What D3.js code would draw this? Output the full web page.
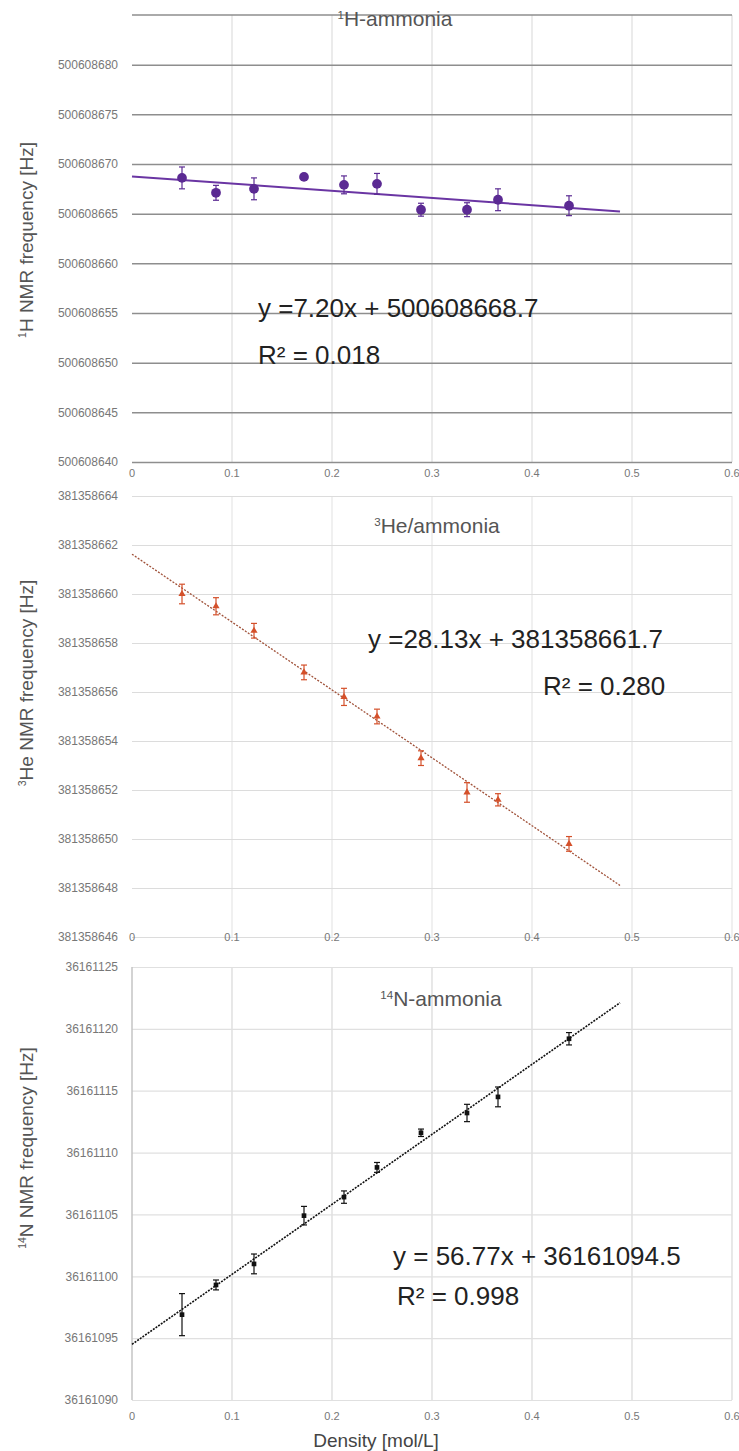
<!DOCTYPE html>
<meta charset="utf-8">
<head>
  <title>NMR frequency vs density</title>
  <script src="https://d3js.org/d3.v7.min.js"></script>
  <style>
    body { margin: 0; background: #fff; }
    text { font-family: "Liberation Sans", Arial, sans-serif; }
  </style>
</head>
<body>
<div id="display"></div>
<script>

// density of the samples [mol/L]
var density = [0.05, 0.084, 0.122, 0.172, 0.212, 0.245, 0.289, 0.335, 0.366, 0.437];
var xTicks = [0, 0.1, 0.2, 0.3, 0.4, 0.5, 0.6];

// 1H
var hFreq = [500608668.6, 500608667.1, 500608667.5, 500608668.7, 500608667.9,
             500608668.0, 500608665.4, 500608665.4, 500608666.4, 500608665.8];
var hErr  = [1.1, 0.75, 1.1, 0.3, 0.9, 1.05, 0.65, 0.7, 1.1, 1.0];
var hTicks = [500608640, 500608645, 500608650, 500608655, 500608660,
              500608665, 500608670, 500608675, 500608680];

// 3He
var heFreq = [381358660.0, 381358659.5, 381358658.5, 381358656.8, 381358655.8,
              381358655.0, 381358653.3, 381358651.9, 381358651.6, 381358649.8];
var heErr  = [0.4, 0.35, 0.3, 0.3, 0.35, 0.3, 0.3, 0.4, 0.25, 0.3];
var heTicks = [381358646, 381358648, 381358650, 381358652, 381358654,
               381358656, 381358658, 381358660, 381358662, 381358664];

// 14N
var nFreq = [36161096.9, 36161099.3, 36161101.0, 36161104.9, 36161106.4,
             36161108.8, 36161111.6, 36161113.2, 36161114.5, 36161119.2];
var nErr  = [1.7, 0.4, 0.8, 0.75, 0.5, 0.4, 0.3, 0.7, 0.8, 0.5];
var nTicks = [36161090, 36161095, 36161100, 36161105, 36161110,
              36161115, 36161120, 36161125];

var width = 739, height = 1451;

var svg = d3.select("#display")
  .append("svg")
    .attr("width", width)
    .attr("height", height);

svg.append("rect").attr("width", width).attr("height", height).attr("fill", "#fff");

var x = d3.scaleLinear().domain([0, 0.6]).range([132, 732]);

function linFit(xs, ys) {
  var mx = d3.mean(xs), my = d3.mean(ys);
  var sxy = 0, sxx = 0;
  xs.forEach(function(v, i) { sxy += (v - mx) * (ys[i] - my); sxx += (v - mx) * (v - mx); });
  var b = sxy / sxx;
  return { slope: b, icpt: my - b * mx };
}

// text with a leading superscript (isotope labels)
function supText(sel, sup, main, size) {
  sel.append("tspan").text(sup).style("font-size", (size * 0.55) + "px").attr("dy", -size * 0.35);
  sel.append("tspan").text(main).attr("dy", size * 0.35);
}

function drawPanel(p) {
  var y = d3.scaleLinear().domain(p.domain).range([p.bottom, p.top]);
  var g = svg.append("g");

  // vertical grid
  g.selectAll(".vgrid")
    .data(xTicks.slice(1))
    .enter()
    .append("line")
      .attr("x1", function(d) { return x(d); })
      .attr("x2", function(d) { return x(d); })
      .attr("y1", p.top)
      .attr("y2", p.bottom)
      .attr("stroke", p.vGrid)
      .attr("stroke-width", 1.2);

  if (p.topLine) {
    g.append("line")
      .attr("x1", x(0)).attr("x2", x(0.6))
      .attr("y1", y(p.domain[1])).attr("y2", y(p.domain[1]))
      .attr("stroke", p.hGrid).attr("stroke-width", p.hGridW);
  }

  // horizontal grid + labels
  var yAxis = g.append("g")
    .attr("transform", "translate(" + x(0) + ",0)")
    .call(d3.axisLeft(y).tickValues(p.ticks).tickSize(-(x(0.6) - x(0))).tickPadding(14).tickFormat(d3.format("d")));
  yAxis.select(".domain").remove();
  yAxis.selectAll("line").attr("stroke", p.hGrid).attr("stroke-width", p.hGridW);
  yAxis.selectAll("text")
    .attr("fill", "#777")
    .style("font-size", "12px")
    .style("font-family", "Liberation Sans, Arial, sans-serif");

  if (p.leftLine) {
    g.append("line")
      .attr("x1", x(0)).attr("x2", x(0))
      .attr("y1", p.top).attr("y2", p.bottom)
      .attr("stroke", "#c4c4c4").attr("stroke-width", 1.5);
  }

  // x tick labels
  g.selectAll(".xlab")
    .data(xTicks)
    .enter()
    .append("text")
      .attr("x", function(d) { return x(d); })
      .attr("y", p.xLabelY)
      .attr("text-anchor", "middle")
      .attr("dominant-baseline", "middle")
      .attr("fill", "#777")
      .style("font-size", "11px")
      .text(function(d) { return d === 0 ? "0" : d3.format(".1f")(d); });

  // title
  var tt = g.append("text")
    .attr("x", p.titleX)
    .attr("y", p.titleY)
    .attr("text-anchor", "middle")
    .attr("fill", "#555")
    .style("font-size", "21px");
  supText(tt, p.titleSup, p.titleMain, 21);

  // y axis title
  var yt = g.append("text")
    .attr("transform", "translate(33," + p.yTitleY + ") rotate(-90)")
    .attr("text-anchor", "middle")
    .attr("fill", "#555")
    .style("font-size", "19px");
  supText(yt, p.ySup, p.yMain, 19);

  // trend line
  var fit = linFit(density, p.vals);
  g.append("line")
    .attr("x1", x(0))
    .attr("y1", y(fit.icpt))
    .attr("x2", x(p.trendEnd))
    .attr("y2", y(fit.icpt + fit.slope * p.trendEnd))
    .attr("stroke", p.trendColor)
    .attr("stroke-width", p.trendW)
    .attr("stroke-dasharray", p.trendDash);

  // error bars
  var eb = g.selectAll(".err")
    .data(density)
    .enter()
    .append("g");
  eb.append("line")
    .attr("x1", function(d) { return x(d); })
    .attr("x2", function(d) { return x(d); })
    .attr("y1", function(d, i) { return y(p.vals[i] - p.errs[i]); })
    .attr("y2", function(d, i) { return y(p.vals[i] + p.errs[i]); })
    .attr("stroke", p.color)
    .attr("stroke-width", 1.2);
  [-1, 1].forEach(function(s) {
    eb.append("line")
      .attr("x1", function(d) { return x(d) - 3; })
      .attr("x2", function(d) { return x(d) + 3; })
      .attr("y1", function(d, i) { return y(p.vals[i] + s * p.errs[i]); })
      .attr("y2", function(d, i) { return y(p.vals[i] + s * p.errs[i]); })
      .attr("stroke", p.color)
      .attr("stroke-width", 1.2);
  });

  // points
  g.selectAll(".pt")
    .data(density)
    .enter()
    .append("path")
      .attr("d", d3.symbol().type(p.symbol).size(p.symSize))
      .attr("transform", function(d, i) { return "translate(" + x(d) + "," + y(p.vals[i]) + ")"; })
      .attr("fill", p.color);

  // equation
  g.append("text")
    .attr("x", p.eqX).attr("y", p.eqY)
    .attr("dominant-baseline", "middle")
    .attr("fill", "#222")
    .style("font-size", "26px")
    .text(p.eq);
  g.append("text")
    .attr("x", p.r2X).attr("y", p.r2Y)
    .attr("dominant-baseline", "middle")
    .attr("fill", "#222")
    .style("font-size", "26px")
    .text(p.r2);
}

drawPanel({
  domain: [500608640, 500608685], ticks: hTicks, top: 15, bottom: 462,
  vals: hFreq, errs: hErr, color: "#5b2a93", symbol: d3.symbolCircle, symSize: 75,
  hGrid: "#8e8e8e", hGridW: 1.5, vGrid: "#dedede", topLine: true,
  xLabelY: 474, titleX: 395, titleY: 26, titleSup: "1", titleMain: "H-ammonia",
  yTitleY: 240, ySup: "1", yMain: "H NMR frequency [Hz]",
  trendEnd: 0.488, trendColor: "#6a35a3", trendW: 2, trendDash: null,
  eq: "y =7.20x + 500608668.7", eqX: 258, eqY: 310,
  r2: "R\u00b2 = 0.018", r2X: 258, r2Y: 357
});

drawPanel({
  domain: [381358646, 381358664], ticks: heTicks, top: 496, bottom: 937,
  vals: heFreq, errs: heErr, color: "#d4502a", symbol: d3.symbolTriangle, symSize: 22,
  hGrid: "#dcdcdc", hGridW: 1.2, vGrid: "#e6e6e6",
  xLabelY: 938, titleX: 437, titleY: 533, titleSup: "3", titleMain: "He/ammonia",
  yTitleY: 683, ySup: "3", yMain: "He NMR frequency [Hz]",
  trendEnd: 0.488, trendColor: "#a0523a", trendW: 1.3, trendDash: "2,1.5",
  eq: "y =28.13x + 381358661.7", eqX: 368, eqY: 641,
  r2: "R\u00b2 = 0.280", r2X: 543, r2Y: 688
});

drawPanel({
  domain: [36161090, 36161125], ticks: nTicks, top: 967, bottom: 1400,
  vals: nFreq, errs: nErr, color: "#111", symbol: d3.symbolSquare, symSize: 22,
  hGrid: "#e0e0e0", hGridW: 1.2, vGrid: "#d8d8d8", leftLine: true,
  xLabelY: 1417, titleX: 441, titleY: 1006, titleSup: "14", titleMain: "N-ammonia",
  yTitleY: 1148, ySup: "14", yMain: "N NMR frequency [Hz]",
  trendEnd: 0.488, trendColor: "#111", trendW: 1.6, trendDash: "2,1.2",
  eq: "y = 56.77x + 36161094.5", eqX: 393, eqY: 1258,
  r2: "R\u00b2 = 0.998", r2X: 397, r2Y: 1298
});

// shared x axis title
svg.append("text")
  .attr("x", 376)
  .attr("y", 1447)
  .attr("text-anchor", "middle")
  .attr("fill", "#444")
  .style("font-size", "19px")
  .text("Density [mol/L]");

</script>
</body>
